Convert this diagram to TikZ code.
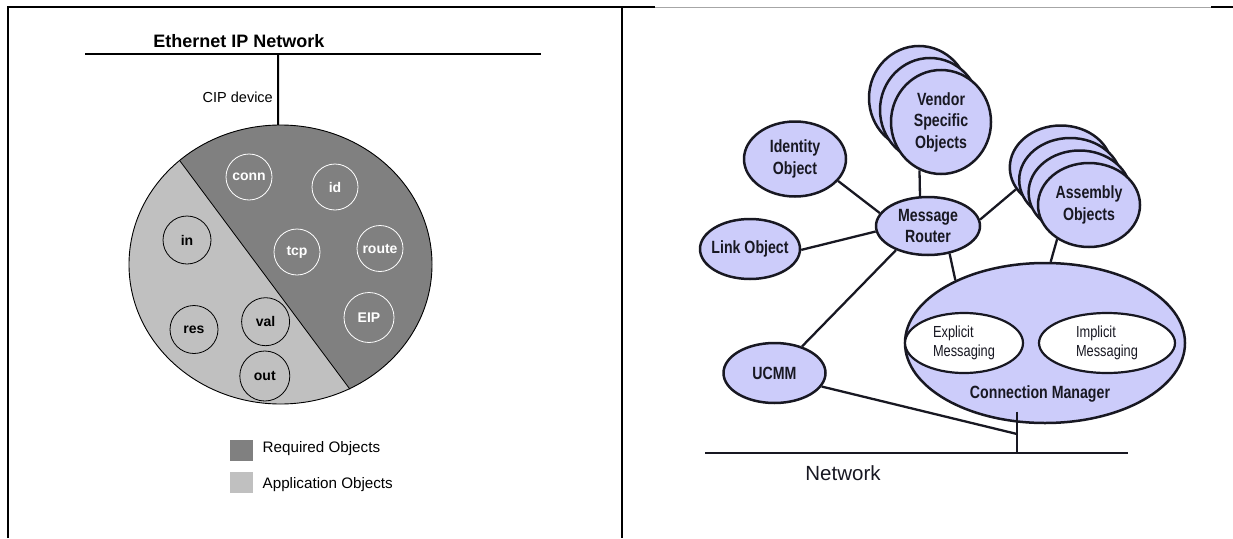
\documentclass[tikz,border=0pt]{standalone}
\usepackage{fontspec}
\setmainfont{Liberation Sans}
\newfontfamily\narrowfont[FakeStretch=0.8]{Liberation Sans}
\usetikzlibrary{shapes.geometric}
\definecolor{darkg}{RGB}{128,128,128}
\definecolor{lightg}{RGB}{192,192,192}
\definecolor{lav}{RGB}{204,204,250}
\definecolor{ink}{RGB}{24,24,34}
\begin{document}
\begin{tikzpicture}[x=1pt,y=-1pt,
  obj/.style={ellipse, draw=ink, line width=2.5, fill=lav, inner sep=0pt, text=ink, align=center,
    font=\narrowfont\bfseries\fontsize{17.7}{21.5}\selectfont},
  msg/.style={ellipse, draw=ink, line width=2.2, fill=white, inner sep=0pt, text=ink, align=left,
    font=\narrowfont\fontsize{16}{18.3}\selectfont},
  wire/.style={draw=ink, line width=2.3},
  dk/.style={circle, draw=white, line width=0.8, text=white, minimum size=46, inner sep=0pt,
    font=\bfseries\fontsize{14}{16}\selectfont},
  lt/.style={circle, draw=black, line width=0.8, text=black, minimum size=48, inner sep=0pt,
    font=\bfseries\fontsize{14}{16}\selectfont},
  lgtext/.style={anchor=west, inner sep=0pt, font=\fontsize{15.2}{17}\selectfont}]
\useasboundingbox (0,0) rectangle (1233,538);
% frame
\draw[line width=2.5] (8,538) -- (8,7) -- (655,7);
\draw[line width=1, gray!70] (655,7) -- (1211,7);
\draw[line width=2.5] (1211,7) -- (1233,7);
\draw[line width=2.5] (622,7) -- (622,538);

% ---------------- left panel ----------------
\coordinate (ethL) at (85,54);
\coordinate (ethR) at (541,54);
\coordinate (cipTop) at (278,54);
\draw[line width=2] (ethL) -- (ethR);
\node[inner sep=0pt, font=\bfseries\fontsize{18}{20}\selectfont] (ethlbl) at (239,41) {Ethernet IP Network};
\node[inner sep=0pt, anchor=east, font=\fontsize{14.5}{16}\selectfont] (ciplbl) at (273,97) {CIP device};

\node[ellipse, fill=lightg, minimum width=303, minimum height=279, inner sep=0pt] (dev) at (280.5,264.5) {};
\begin{scope}
  \clip (280.5,264.5) ellipse [x radius=151.5, y radius=139.5];
  \fill[darkg] (129,92.5) -- (384,435) -- (450,435) -- (450,92.5) -- cycle;
\end{scope}
\coordinate (divA) at (180,161);
\coordinate (divB) at (350,389.3);
\draw[line width=0.8] (divA) -- (divB);
\draw[line width=0.9] (280.5,264.5) ellipse [x radius=151.5, y radius=139.5];
\draw[line width=2] (cipTop) -- (dev.91);

\node[dk] (cconn) at (249,177) {conn};
\node[dk] (cid) at (335,187) {id};
\node[dk] (ctcp) at (297,252) {tcp};
\node[dk] (croute) at (380,248.5) {route};
\node[dk, minimum size=50] (ceip) at (369,317.5) {EIP};
\node[lt] (cin) at (187,240) {in};
\node[lt] (cres) at (194,329.5) {res};
\node[lt] (cval) at (265.6,321.7) {val};
\node[lt, minimum size=50] (cout) at (264.8,376) {out};

\node[fill=darkg, minimum width=23, minimum height=21, inner sep=0pt] (lgreq) at (241.5,450.2) {};
\node[lgtext] (lgreqt) at (262.5,449) {Required Objects};
\node[fill=lightg, minimum width=23, minimum height=21, inner sep=0pt] (lgapp) at (241.5,482.5) {};
\node[lgtext] (lgappt) at (262.5,484.7) {Application Objects};

% ---------------- right panel ----------------
\node[obj, minimum width=100, minimum height=104] (v3) at (919,98) {};
\node[obj, minimum width=100, minimum height=104] (v2) at (930,110) {};
\node[obj, minimum width=100, minimum height=104] (vendor) at (941,122) {Vendor\\Specific\\Objects};
\node[obj, minimum width=102, minimum height=75] (ident) at (795,159) {Identity\\Object};
\node[obj, minimum width=104, minimum height=58] (router) at (928,226) {Message\\Router};
\node[obj, minimum width=100, minimum height=60, inner xsep=-14pt] (link) at (750,249) {Link Object};
\node[obj, minimum width=102, minimum height=84] (a4) at (1060.8,167.5) {};
\node[obj, minimum width=102, minimum height=84] (a3) at (1070.2,180) {};
\node[obj, minimum width=102, minimum height=84] (a2) at (1079.6,192.5) {};
\node[obj, minimum width=102, minimum height=84] (asm) at (1089,205) {Assembly\\Objects};
\node[obj, minimum width=280, minimum height=160] (cm) at (1045,343) {};
\node[msg, minimum width=118, minimum height=60] (expl) at (964,343) {Explicit\\Messaging};
\node[msg, minimum width=136, minimum height=60] (impl) at (1107,343) {Implicit\\Messaging};
\node[inner sep=0pt, text=ink, font=\narrowfont\bfseries\fontsize{17.7}{20}\selectfont] (cmlbl) at (1040,394) {Connection Manager};
\node[obj, minimum width=102, minimum height=60] (ucmm) at (774.5,373) {UCMM};

\coordinate (dropTop) at (1017,411.7);
\coordinate (dropBot) at (1017,453);
\coordinate (ujoin) at (1017,434);
\coordinate (netL) at (705,453);
\coordinate (netR) at (1128,453);

\draw[wire] (vendor.-114) -- (router.105.6);
\draw[wire] (ident.-27.8) -- (router.165.7);
\draw[wire] (link.-1) -- (router.186.6);
\draw[wire] (router.7.7) -- (a4.206);
\draw[wire] (router.217.5) -- (ucmm.44.3);
\draw[wire] (router.-52.8) -- (cm.145.8);
\draw[wire] (asm.227.3) -- (cm.86.4);
\draw[wire] (ucmm.-16.9) -- (ujoin);
\draw[wire, line width=1.6] (dropTop) -- (dropBot);
\draw[line width=2.6, draw=ink] (netL) -- (netR);
\node[inner sep=0pt, text=ink, font=\fontsize{20.5}{22}\selectfont] (netlbl) at (843,473) {Network};
\end{tikzpicture}
\end{document}
